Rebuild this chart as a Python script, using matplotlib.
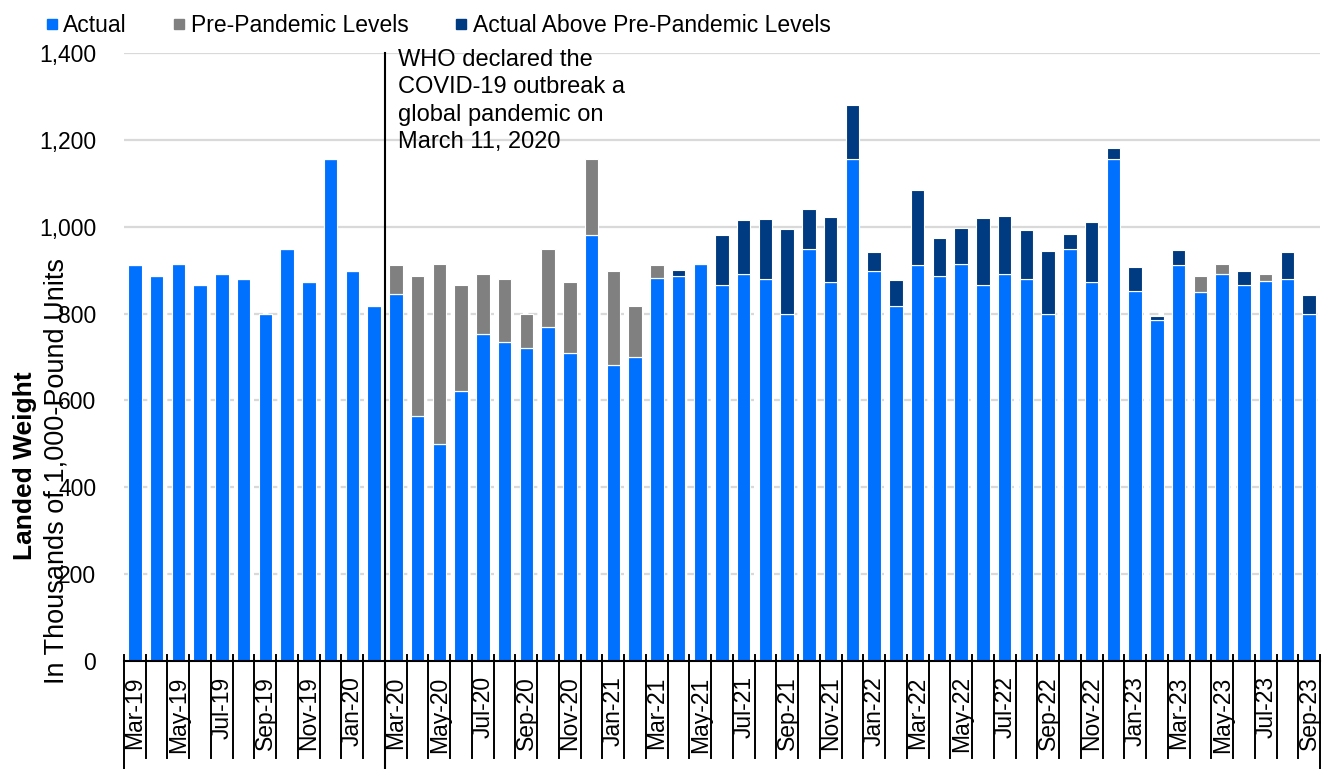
import numpy as np
import matplotlib
matplotlib.use("Agg")
import matplotlib.pyplot as plt
from matplotlib.lines import Line2D

plt.rcParams['font.family'] = ['Liberation Sans', 'DejaVu Sans']

#%% Data (thousands of 1,000-pound units)

months = ['Mar-19', 'Apr-19', 'May-19', 'Jun-19', 'Jul-19', 'Aug-19', 'Sep-19', 'Oct-19',
          'Nov-19', 'Dec-19', 'Jan-20', 'Feb-20',
          'Mar-20', 'Apr-20', 'May-20', 'Jun-20', 'Jul-20', 'Aug-20', 'Sep-20', 'Oct-20',
          'Nov-20', 'Dec-20', 'Jan-21', 'Feb-21',
          'Mar-21', 'Apr-21', 'May-21', 'Jun-21', 'Jul-21', 'Aug-21', 'Sep-21', 'Oct-21',
          'Nov-21', 'Dec-21', 'Jan-22', 'Feb-22',
          'Mar-22', 'Apr-22', 'May-22', 'Jun-22', 'Jul-22', 'Aug-22', 'Sep-22', 'Oct-22',
          'Nov-22', 'Dec-22', 'Jan-23', 'Feb-23',
          'Mar-23', 'Apr-23', 'May-23', 'Jun-23', 'Jul-23', 'Aug-23', 'Sep-23']

actual = [912, 887, 915, 865, 892, 880, 800, 948, 872, 1155, 898, 817,
          846, 565, 500, 622, 754, 735, 720, 768, 709, 982, 682, 699,
          882, 901, 915, 981, 1015, 1018, 994, 1041, 1023, 1281, 941, 877,
          1085, 975, 998, 1021, 1024, 992, 945, 984, 1012, 1181, 907, 795,
          946, 849, 891, 899, 876, 942, 842]

nan = np.nan
pre_level = [nan, nan, nan, nan, nan, nan, nan, nan, nan, nan, nan, nan,
             912, 887, 915, 865, 892, 880, 800, 948, 872, 1155, 898, 817,
             912, 887, 915, 865, 892, 880, 800, 948, 872, 1155, 898, 817,
             912, 887, 915, 865, 892, 880, 800, 948, 872, 1155, 851, 785,
             912, 887, 915, 865, 892, 880, 800]

yticks = [0, 200, 400, 600, 800, 1000, 1200, 1400]

c_actual = '#0070FF'
c_pre = '#808080'
c_above = '#003A80'

#%% Split each month into its stacked pieces

act = np.array(actual, dtype=float)
pre = np.array(pre_level, dtype=float)
base = np.where(np.isnan(pre), act, np.minimum(act, pre))
gap = np.where(np.isnan(pre), 0, np.clip(pre - act, 0, None))
above = np.where(np.isnan(pre), 0, np.clip(act - pre, 0, None))
x = np.arange(len(months))

#%% Plot

fs = 16.5
fig = plt.figure(figsize=(13.23, 7.69), dpi=100)
ax = fig.add_axes([124 / 1323, 1 - 661 / 769, 1196 / 1323, 608 / 769])

w = 0.62
ax.bar(x, base, w, color=c_actual, edgecolor='white', linewidth=0.8, zorder=3)
ax.bar(x, gap, w, bottom=base, color=c_pre, edgecolor='white', linewidth=0.8, zorder=3)
ax.bar(x, above, w, bottom=base, color=c_above, edgecolor='white', linewidth=0.8, zorder=3)

# gridlines: solid up top, dashed below 1,000
for v in yticks[1:]:
    ls = '-' if v >= 1000 else (0, (4, 2.5))
    ax.axhline(v, color='#D9D9D9', lw=1.6, ls=ls, zorder=1)

ax.set_xlim(-0.5, len(months) - 0.5)
ax.set_ylim(0, 1400)
ax.set_yticks(yticks)
ax.set_yticklabels([f'{v:,}' for v in yticks], fontsize=fs)
ax.tick_params(axis='y', length=0, pad=20)

ax.set_xticks(x[::2])
ax.set_xticklabels(months[::2], rotation=90, fontsize=fs, va='top')
ax.tick_params(axis='x', length=0, pad=11)

for s in ['left', 'right', 'top']:
    ax.spines[s].set_visible(False)
ax.spines['bottom'].set_linewidth(1.5)
ax.spines['bottom'].set_zorder(4)

# category separators below the axis
trans = ax.get_xaxis_transform()
fig_bottom = -(769 - 661) / 608
for b in np.arange(-0.5, len(months), 1.0):
    lo = fig_bottom if b in (-0.5, 11.5, len(months) - 0.5) else -97 / 608
    ax.plot([b, b], [6 / 608, lo], color='black', lw=1.4, transform=trans,
            clip_on=False, zorder=4)

# pandemic declaration marker
ax.plot([11.5, 11.5], [1.0, fig_bottom], color='black', lw=1.5, transform=trans,
        clip_on=False, zorder=5)
ax.text(0.229, 1.006, 'WHO declared the\nCOVID-19 outbreak a\nglobal pandemic on\nMarch 11, 2020',
        transform=ax.transAxes, fontsize=17, va='top', ha='left', linespacing=1.3)

# axis title
fig.text(25 / 1323, 1 - 466 / 769, 'Landed Weight', rotation=90, fontsize=19,
         fontweight='bold', ha='center', va='center')
fig.text(57 / 1323, 1 - 471 / 769, 'In Thousands of 1,000-Pound Units', rotation=90,
         fontsize=19.5, ha='center', va='center')

handles = [Line2D([], [], marker='s', ls='none', color=c, markersize=7.5)
           for c in (c_actual, c_pre, c_above)]
fig.legend(handles, ['Actual', 'Pre-Pandemic Levels', 'Actual Above Pre-Pandemic Levels'],
           loc='upper left', bbox_to_anchor=(31 / 1323, 1.0), ncol=3, frameon=False,
           fontsize=fs, handlelength=0.6, handletextpad=0.2, columnspacing=2.0,
           borderaxespad=0.2)

fig.savefig('out.png', dpi=100)
